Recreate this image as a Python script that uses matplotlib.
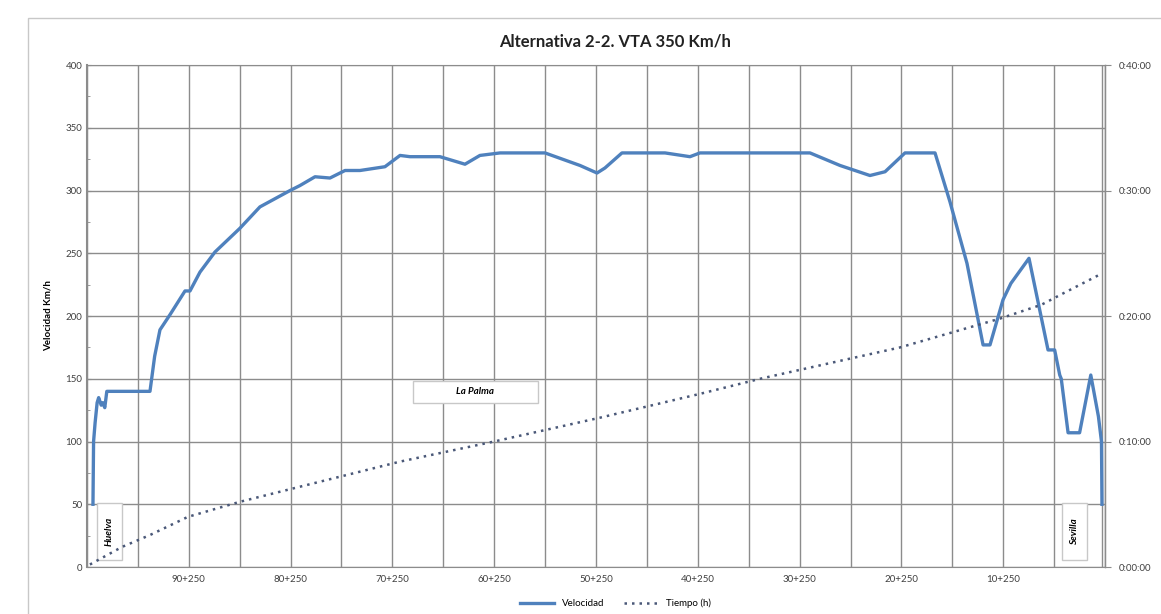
import matplotlib
matplotlib.use("Agg")
import matplotlib.pyplot as plt
from matplotlib.patches import Rectangle
from matplotlib.ticker import FixedLocator, FuncFormatter, MultipleLocator

plt.rcParams["font.family"] = ["Lato", "DejaVu Sans"]

# velocity profile: kilometric point (km) vs speed (km/h)
pk_vel = [99.66, 99.6, 99.45, 99.25, 99.1, 98.85, 98.7, 98.5, 98.3, 97.9, 94.06,
          93.6, 93.08, 92.1, 90.62, 90.13, 89.15, 87.68, 85.22, 83.26, 80.31,
          79.33, 77.85, 76.38, 74.9, 73.43, 70.98, 69.5, 68.52, 67.54, 66.56,
          65.58, 63.12, 61.65, 59.68, 55.26, 51.82, 50.15, 49.37, 47.7, 43.47,
          41.02, 40.04, 29.23, 26.28, 23.34, 21.86, 19.9, 16.95, 15.48, 13.81,
          12.23, 11.55, 10.27, 9.5, 7.72, 5.85, 5.2, 4.7, 4.55, 3.88, 2.75,
          1.65, 0.9, 0.6, 0.55]
velocidad = [50, 100, 115, 131, 135, 129, 131, 127, 140, 140, 140,
             168, 189, 201, 220, 220, 235, 251, 270, 287, 300,
             304, 311, 310, 316, 316, 319, 328, 327, 327, 327,
             327, 321, 328, 330, 330, 320, 314, 318, 330, 330,
             327, 330, 330, 320, 312, 315, 330, 330, 291, 242,
             177, 177, 213, 226, 246, 173, 173, 153, 150, 107, 107,
             153, 120, 100, 50]

# travel time (minutes) vs kilometric point
pk_tiempo = [99.96, 96.81, 94.06, 90.33, 85.22, 79.82, 69.5, 60.27, 49.86,
             40.04, 34.14, 20.39, 10.56, 6.5, 4.38, 0.54]
tiempo_min = [0.2, 1.6, 2.55, 4.0, 5.2, 6.3, 8.4, 10.0, 11.9,
              13.8, 15.0, 17.5, 19.8, 20.9, 21.8, 23.4]

pk_labels = [90.25, 80.25, 70.25, 60.25, 50.25, 40.25, 30.25, 20.25, 10.25]

fig = plt.figure(figsize=(11.61, 6.14), dpi=100)
fig.patches.append(Rectangle((0.024, -0.01), 1.0, 0.98, transform=fig.transFigure,
                             fill=False, edgecolor="#c8c8c8", linewidth=1))
ax = fig.add_axes([0.0749, 0.0765, 0.8769, 0.8175])

ax.plot(pk_vel, velocidad, color="#4F81BD", linewidth=2.4, label="Velocidad",
        zorder=3)
ax.set_xlim(100.25, 0.25)
ax.set_ylim(0, 400)
ax.yaxis.set_major_locator(MultipleLocator(50))
ax.yaxis.set_minor_locator(MultipleLocator(25))
ax.xaxis.set_major_locator(FixedLocator(pk_labels))
ax.xaxis.set_major_formatter(FuncFormatter(lambda v, p: f"{int(v)}+250"))
ax.xaxis.set_minor_locator(FixedLocator([100.25 - 5 * i for i in range(21)]))
ax.grid(True, which="major", axis="y", color="#8c8c8c", linewidth=1)
ax.grid(True, which="both", axis="x", color="#8c8c8c", linewidth=1)
ax.tick_params(axis="x", which="both", length=0, labelsize=7, pad=6,
               labelcolor="#404040")
ax.tick_params(axis="y", which="major", length=3, direction="in", labelsize=7,
               labelcolor="#404040", color="#8c8c8c")
ax.tick_params(axis="y", which="minor", length=2, direction="in",
               color="#8c8c8c")
for s in ax.spines.values():
    s.set_color("#8c8c8c")
ax.spines["left"].set_linewidth(1.5)
ax.set_ylabel("Velocidad Km/h", fontsize=7, fontweight="bold", labelpad=9)

ax2 = ax.twinx()
ax2.plot(pk_tiempo, tiempo_min, color="#4A5878", linewidth=1.8,
         linestyle=(0, (1, 2)), label="Tiempo (h)", zorder=2)
ax2.set_ylim(0, 40)
ax2.yaxis.set_major_locator(MultipleLocator(10))
ax2.yaxis.set_major_formatter(FuncFormatter(lambda v, p: f"0:{int(v):02d}:00"))
ax2.tick_params(axis="y", length=4, direction="out", labelsize=7,
                labelcolor="#404040", color="#8c8c8c", pad=6)
for s in ax2.spines.values():
    s.set_visible(False)
ax2.spines["right"].set_visible(True)
ax2.spines["right"].set_color("#8c8c8c")
ax2.spines["right"].set_linewidth(1)
ax.axvline(0.5, color="#8c8c8c", linewidth=1, zorder=1)

fig.text(0.53, 0.925, "Alternativa 2-2. VTA 350 Km/h", ha="center",
         fontsize=12, fontweight="bold", color="#222222")

# label boxes (x0, y0, width, height in data units)
for x0, y0, w, h in [(68.25, 131, -12.3, 17.5), (99.27, 5.6, -2.46, 45.4),
                     (4.47, 5.6, -2.46, 45.4)]:
    ax.add_patch(Rectangle((x0, y0), w, h, facecolor="white",
                           edgecolor="#c8c8c8", linewidth=1, zorder=5))
ax.text(62.1, 139.5, "La Palma", ha="center", va="center", fontsize=7,
        fontweight="bold", style="italic", zorder=6)
ax.text(98.04, 28.3, "Huelva", ha="center", va="center", fontsize=7,
        fontweight="bold", style="italic", rotation=90, zorder=6)
ax.text(3.24, 28.3, "Sevilla", ha="center", va="center", fontsize=7,
        fontweight="bold", style="italic", rotation=90, zorder=6)

h1, l1 = ax.get_legend_handles_labels()
h2, l2 = ax2.get_legend_handles_labels()
fig.legend(h1 + h2, l1 + l2, loc="lower center", bbox_to_anchor=(0.53, -0.005),
           ncol=2, frameon=False, fontsize=7, handlelength=3.5)

fig.savefig("out.png", dpi=100)
